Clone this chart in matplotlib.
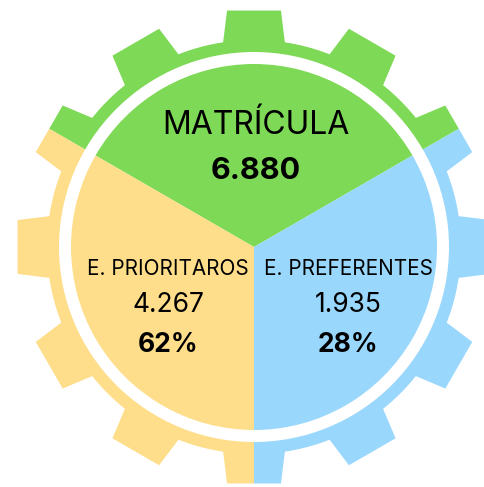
import numpy as np
import matplotlib
matplotlib.use("Agg")
import matplotlib.pyplot as plt
from matplotlib.patches import Polygon, Wedge, Circle

# data
total_label = "MATRÍCULA"
total_value = 6880
categories = ["E. PRIORITAROS", "E. PREFERENTES"]
counts = [4267, 1935]
shares = [62, 28]

# sector colours: matricula (top), prioritarios (left), preferentes (right)
colors = ["#7ED957", "#FEDE8A", "#99D7FC"]

plt.rcParams['font.family'] = ['Inter', 'DejaVu Sans']


def fmt(n):
    return f"{n:,}".replace(",", ".")


def gear_outline(n_teeth=12, r_root=207, r_tip=238, half_base=31, half_tip=27):
    '''
    polygon points of a gear with trapezoid teeth, first tooth at 0 deg
    '''
    pts = []
    step = 2 * np.pi / n_teeth
    a_base = half_base / r_root
    a_tip = half_tip / r_tip
    for k in range(n_teeth):
        c = k * step
        # root arc from previous tooth to this one
        arc = np.linspace(c - step + a_base, c - a_base, 12)
        pts += [(r_root * np.cos(a), r_root * np.sin(a)) for a in arc]
        pts.append((r_tip * np.cos(c - a_tip), r_tip * np.sin(c - a_tip)))
        pts.append((r_tip * np.cos(c + a_tip), r_tip * np.sin(c + a_tip)))
    return np.array(pts)


fig = plt.figure(figsize=(4.84, 4.87), dpi=100)
ax = fig.add_axes([0, 0, 1, 1])

# gear, split in three coloured thirds
outline = gear_outline()
bounds = [(30, 150), (150, 270), (270, 390)]
for (t1, t2), col in zip(bounds, colors):
    poly = Polygon(outline, closed=True, facecolor=col, edgecolor='none')
    ax.add_patch(poly)
    clip = Wedge((0, 0), 260, t1, t2, transform=ax.transData)
    poly.set_clip_path(clip)

# white ring + inner pie
ax.add_patch(Circle((0, 0), 195, facecolor='white', edgecolor='none'))
ax.pie([1, 1, 1], colors=colors, startangle=30, counterclock=True,
       radius=183, center=(0, 0), frame=True,
       wedgeprops=dict(linewidth=0))

ax.set_xlim(-254, 230)
ax.set_ylim(-240, 247)
ax.set_aspect('equal')
ax.axis('off')

# labels
ax.text(2, 121, total_label, ha='center', va='center', fontsize=23, color='black')
ax.text(2, 76, fmt(total_value), ha='center', va='center', fontsize=22,
        fontweight='bold', color='black')

xs = [-86, 94]
for x, cat, n, s in zip(xs, categories, counts, shares):
    ax.text(x, -22, cat, ha='center', va='center', fontsize=14.9, color='black')
    ax.text(x, -58, fmt(n), ha='center', va='center', fontsize=19, color='black')
    ax.text(x, -98, f"{s}%", ha='center', va='center', fontsize=19,
            fontweight='bold', color='black')

fig.savefig("out.png", dpi=100)
